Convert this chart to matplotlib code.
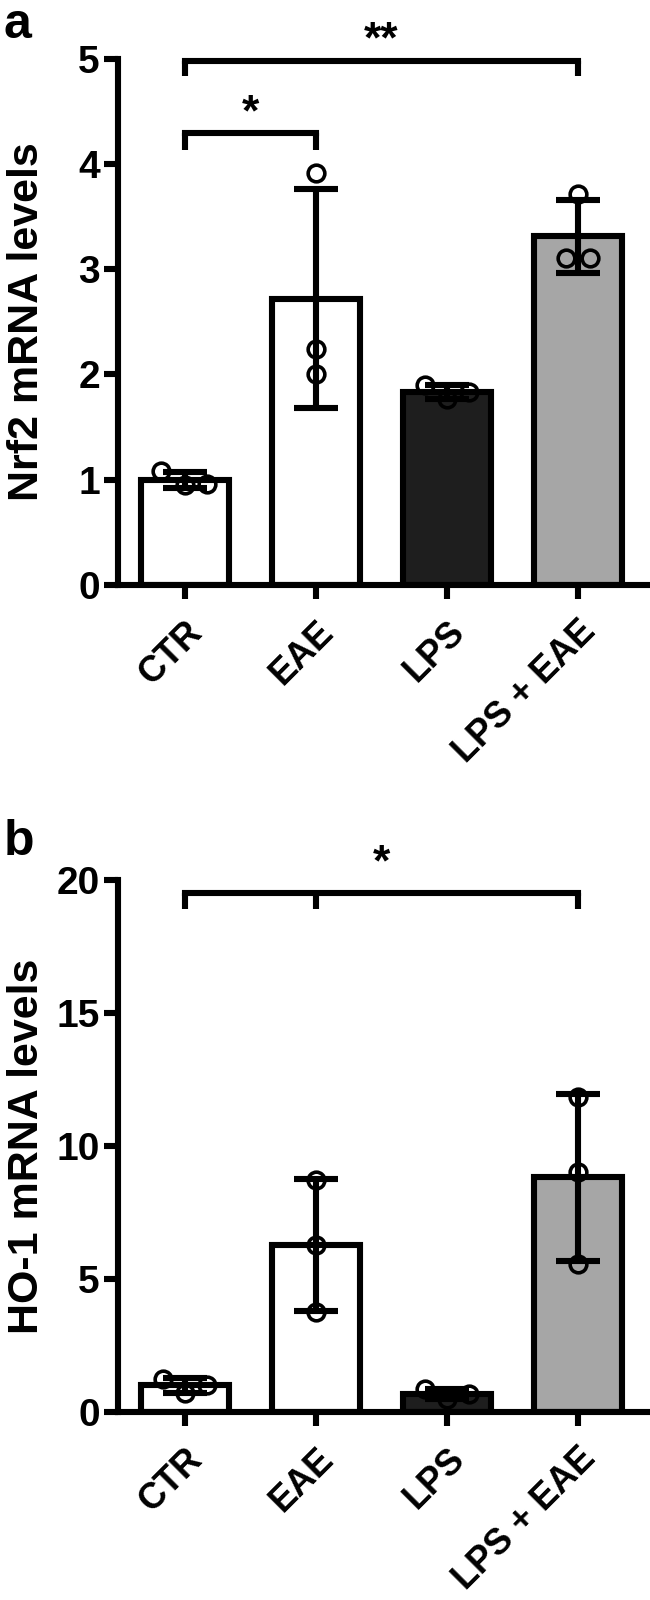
import matplotlib
matplotlib.use("Agg")
import matplotlib.pyplot as plt
import matplotlib.transforms as mtransforms
import numpy as np

plt.rcParams['font.family'] = ['Liberation Sans', 'DejaVu Sans']
plt.rcParams['font.weight'] = 'bold'

groups = ["CTR", "EAE", "LPS", "LPS + EAE"]
bar_colors = ["white", "white", "#1e1e1e", "#a6a6a6"]

# replicate values (three per group)
nrf2_ctr = [1.08, 0.95, 0.96]
nrf2_eae = [3.91, 2.24, 2.00]
nrf2_lps = [1.90, 1.77, 1.83]
nrf2_lps_eae = [3.71, 3.11, 3.11]

ho1_ctr = [1.25, 0.72, 1.02]
ho1_eae = [8.74, 6.29, 3.77]
ho1_lps = [0.86, 0.49, 0.68]
ho1_lps_eae = [11.85, 9.03, 5.57]

# horizontal spread of the points within a bar (layout only)
spread_a = [[-0.18, 0.0, 0.17], [0, 0, 0], [-0.17, 0.0, 0.17], [0.0, -0.09, 0.09]]
spread_b = [[-0.17, 0.0, 0.17], [0, 0, 0], [-0.17, 0.0, 0.17], [0, 0, 0]]

LW = 4.4


def panel(fig, ax, data, spread, ylim, yticks, ylabel):
    x = np.arange(len(groups))
    means = [np.mean(d) for d in data]
    sds = [np.std(d, ddof=1) for d in data]
    ax.bar(x, means, width=0.67, color=bar_colors, edgecolor="black",
           linewidth=LW, zorder=2)
    ax.errorbar(x, means, yerr=sds, fmt="none", ecolor="black",
                elinewidth=LW, capsize=16, capthick=LW, zorder=3)
    for i, d in enumerate(data):
        ax.plot(x[i] + np.array(spread[i]), d, "o", ms=12, mfc="none",
                mec="black", mew=2.6, zorder=4, clip_on=False)
    ax.set_xlim(-0.51, 3.53)
    ax.set_ylim(*ylim)
    ax.set_yticks(yticks)
    ax.set_xticks(x)
    ax.set_xticklabels(groups, rotation=45, ha="right", va="top",
                       rotation_mode="anchor", fontsize=26)
    off = mtransforms.ScaledTranslation(6 / 72, 0, fig.dpi_scale_trans)
    for lab in ax.get_xticklabels():
        lab.set_transform(lab.get_transform() + off)
    ax.set_ylabel(ylabel, fontsize=31, fontweight="bold", va="center")
    ax.yaxis.set_label_coords(-0.172, 0.5)
    for s in ["top", "right"]:
        ax.spines[s].set_visible(False)
    for s in ["left", "bottom"]:
        ax.spines[s].set_linewidth(LW)
    ax.tick_params(width=LW, length=10)
    ax.tick_params(axis="y", labelsize=28, pad=3)
    ax.tick_params(axis="x", pad=11)


def bracket(ax, x0, x1, y, drop, text, ty, xs=None):
    ax.plot([x0, x1], [y, y], color="black", lw=LW, clip_on=False,
            solid_capstyle="projecting")
    for xx in (xs if xs is not None else [x0, x1]):
        ax.plot([xx, xx], [y, y - drop], color="black", lw=LW, clip_on=False,
                solid_capstyle="butt")
    ax.text((x0 + x1) / 2, ty, text, ha="center", va="center", fontsize=32,
            fontweight="bold")


fig = plt.figure(figsize=(6.5, 16), dpi=100)

ax1 = fig.add_axes([0.1815, 0.6344, 0.815, 0.329])
panel(fig, ax1, [nrf2_ctr, nrf2_eae, nrf2_lps, nrf2_lps_eae], spread_a,
      (0, 5), [0, 1, 2, 3, 4, 5], "Nrf2 mRNA levels")
bracket(ax1, 0, 3, 4.98, 0.15, "**", 5.17)
bracket(ax1, 0, 1, 4.29, 0.16, "*", 4.47)

ax2 = fig.add_axes([0.1815, 0.1175, 0.815, 0.3325])
panel(fig, ax2, [ho1_ctr, ho1_eae, ho1_lps, ho1_lps_eae], spread_b,
      (0, 20), [0, 5, 10, 15, 20], "HO-1 mRNA levels")
bracket(ax2, 0, 3, 19.5, 0.6, "*", 20.6, xs=[0, 1, 3])

fig.text(0.006, 0.999, "a", fontsize=36, fontweight="bold", va="top")
fig.text(0.006, 0.488, "b", fontsize=36, fontweight="bold", va="top")

fig.savefig("out.png", dpi=100)
